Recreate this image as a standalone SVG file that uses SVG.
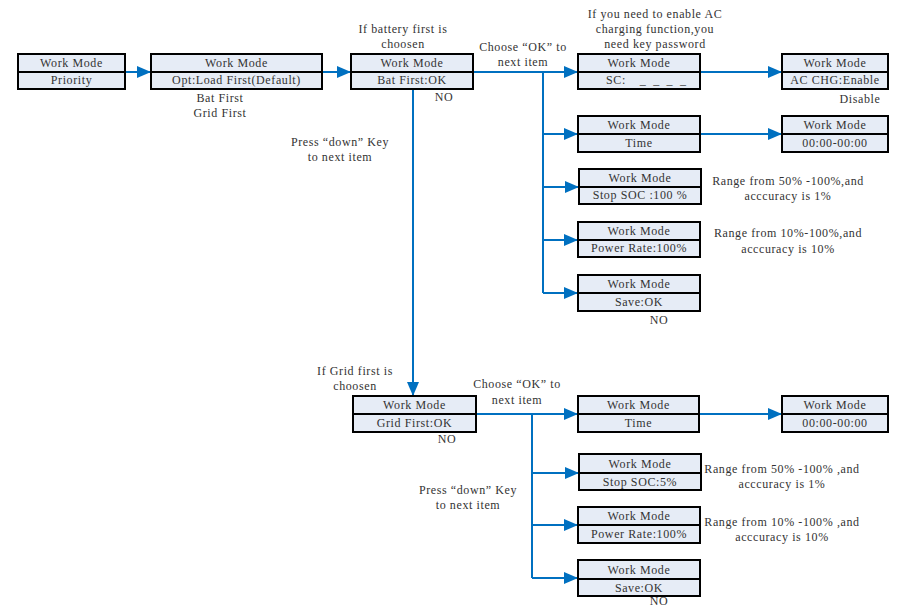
<svg xmlns="http://www.w3.org/2000/svg" width="898" height="608" viewBox="0 0 898 608">
<style>
.b{fill:#E6ECF6;stroke:#000;stroke-width:2}
.d{stroke:#000;stroke-width:2}
.t{font-family:"Liberation Serif","Times New Roman",serif;font-size:12px;letter-spacing:0.6px;fill:#333;text-anchor:middle;dominant-baseline:central}
.c{fill:none;stroke:#0070C0;stroke-width:2}
</style>
<defs>
<marker id="a" markerUnits="userSpaceOnUse" markerWidth="14" markerHeight="12" refX="13" refY="6" orient="auto">
<path d="M0,0 L14,6 L0,12 Z" fill="#0070C0"/>
</marker>
</defs>
<g id="connectors">
<path class="c" d="M125,72 H150" marker-end="url(#a)"/>
<path class="c" d="M322,72 H350" marker-end="url(#a)"/>
<path class="c" d="M473,72 H577" marker-end="url(#a)"/>
<path class="c" d="M700,72 H781" marker-end="url(#a)"/>
<path class="c" d="M543,72 V293"/>
<path class="c" d="M543,134 H577" marker-end="url(#a)"/>
<path class="c" d="M543,187 H578" marker-end="url(#a)"/>
<path class="c" d="M543,240 H577" marker-end="url(#a)"/>
<path class="c" d="M543,293 H577" marker-end="url(#a)"/>
<path class="c" d="M700,134 H781" marker-end="url(#a)"/>
<path class="c" d="M413,89 V395" marker-end="url(#a)"/>
<path class="c" d="M476,414 H577" marker-end="url(#a)"/>
<path class="c" d="M532,414 V578"/>
<path class="c" d="M532,473 H578" marker-end="url(#a)"/>
<path class="c" d="M532,525 H577" marker-end="url(#a)"/>
<path class="c" d="M532,578 H577" marker-end="url(#a)"/>
<path class="c" d="M699,414 H781" marker-end="url(#a)"/>
</g>
<g id="n1"><rect class="b" x="18" y="54" width="107" height="35"/><line class="d" x1="18" y1="72" x2="125" y2="72"/><text class="t" x="71.5" y="63">Work Mode</text><text class="t" x="71.5" y="80">Priority</text></g>
<g id="n2"><rect class="b" x="151" y="54" width="171" height="35"/><line class="d" x1="151" y1="72" x2="322" y2="72"/><text class="t" x="236.5" y="63">Work Mode</text><text class="t" x="236.5" y="80">Opt:Load First(Default)</text></g>
<g id="n3"><rect class="b" x="351" y="54" width="122" height="35"/><line class="d" x1="351" y1="72" x2="473" y2="72"/><text class="t" x="412" y="63">Work Mode</text><text class="t" x="412" y="80">Bat First:OK</text></g>
<g id="n4"><rect class="b" x="578" y="54" width="122" height="35"/><line class="d" x1="578" y1="72" x2="700" y2="72"/><text class="t" x="639" y="63">Work Mode</text><text class="t" x="606" y="80" style="text-anchor:start" xml:space="preserve">SC: <tspan style="letter-spacing:2.2px">  _ _ _ _</tspan></text></g>
<g id="n5"><rect class="b" x="782" y="54" width="106" height="35"/><line class="d" x1="782" y1="72" x2="888" y2="72"/><text class="t" x="835" y="63">Work Mode</text><text class="t" x="835" y="80">AC CHG:Enable</text></g>
<g id="n6"><rect class="b" x="578" y="116" width="122" height="36"/><line class="d" x1="578" y1="134" x2="700" y2="134"/><text class="t" x="639" y="125">Work Mode</text><text class="t" x="639" y="143">Time</text></g>
<g id="n7"><rect class="b" x="782" y="116" width="106" height="36"/><line class="d" x1="782" y1="134" x2="888" y2="134"/><text class="t" x="835" y="125">Work Mode</text><text class="t" x="835" y="143">00:00-00:00</text></g>
<g id="n8"><rect class="b" x="579" y="169" width="122" height="35"/><line class="d" x1="579" y1="187" x2="701" y2="187"/><text class="t" x="640" y="178">Work Mode</text><text class="t" x="640" y="195">Stop SOC :100 %</text></g>
<g id="n9"><rect class="b" x="578" y="222" width="122" height="35"/><line class="d" x1="578" y1="240" x2="700" y2="240"/><text class="t" x="639" y="231">Work Mode</text><text class="t" x="639" y="248">Power Rate:100%</text></g>
<g id="n10"><rect class="b" x="578" y="275" width="122" height="36"/><line class="d" x1="578" y1="293" x2="700" y2="293"/><text class="t" x="639" y="284">Work Mode</text><text class="t" x="639" y="302">Save:OK</text></g>
<g id="n11"><rect class="b" x="353" y="396" width="123" height="36"/><line class="d" x1="353" y1="414" x2="476" y2="414"/><text class="t" x="414.5" y="405">Work Mode</text><text class="t" x="414.5" y="423">Grid First:OK</text></g>
<g id="n12"><rect class="b" x="578" y="396" width="121" height="36"/><line class="d" x1="578" y1="414" x2="699" y2="414"/><text class="t" x="638.5" y="405">Work Mode</text><text class="t" x="638.5" y="423">Time</text></g>
<g id="n13"><rect class="b" x="782" y="396" width="106" height="36"/><line class="d" x1="782" y1="414" x2="888" y2="414"/><text class="t" x="835" y="405">Work Mode</text><text class="t" x="835" y="423">00:00-00:00</text></g>
<g id="n14"><rect class="b" x="579" y="454" width="122" height="36"/><line class="d" x1="579" y1="473" x2="701" y2="473"/><text class="t" x="640" y="463.5">Work Mode</text><text class="t" x="640" y="481.5">Stop SOC:5%</text></g>
<g id="n15"><rect class="b" x="578" y="507" width="122" height="36"/><line class="d" x1="578" y1="525" x2="700" y2="525"/><text class="t" x="639" y="516">Work Mode</text><text class="t" x="639" y="534">Power Rate:100%</text></g>
<g id="n16"><rect class="b" x="578" y="560" width="122" height="36"/><line class="d" x1="578" y1="579" x2="700" y2="579"/><text class="t" x="639" y="569.5">Work Mode</text><text class="t" x="639" y="587.5">Save:OK</text></g>
<g id="labels">
<text class="t" x="220" y="98">Bat First</text>
<text class="t" x="220" y="113">Grid First</text>
<text class="t" x="403" y="29">If battery first is</text>
<text class="t" x="403" y="44">choosen</text>
<text class="t" x="444" y="97">NO</text>
<text class="t" x="523" y="47">Choose “OK” to</text>
<text class="t" x="523" y="62">next item</text>
<text class="t" x="655" y="14">If you need to enable AC</text>
<text class="t" x="655" y="29">charging function,you</text>
<text class="t" x="655" y="44">need key password</text>
<text class="t" x="860" y="99">Disable</text>
<text class="t" x="340" y="142">Press “down” Key</text>
<text class="t" x="340" y="157">to next item</text>
<text class="t" x="788" y="181">Range from 50% -100%,and</text>
<text class="t" x="788" y="196">acccuracy is 1%</text>
<text class="t" x="788" y="233">Range from 10%-100%,and</text>
<text class="t" x="788" y="249">acccuracy is 10%</text>
<text class="t" x="659" y="320">NO</text>
<text class="t" x="355" y="371">If Grid first is</text>
<text class="t" x="355" y="386">choosen</text>
<text class="t" x="447" y="439">NO</text>
<text class="t" x="517" y="384">Choose “OK” to</text>
<text class="t" x="517" y="400">next item</text>
<text class="t" x="468" y="490">Press “down” Key</text>
<text class="t" x="468" y="505">to next item</text>
<text class="t" x="782" y="469">Range from 50% -100% ,and</text>
<text class="t" x="782" y="484">acccuracy is 1%</text>
<text class="t" x="782" y="522">Range from 10% -100% ,and</text>
<text class="t" x="782" y="537">acccuracy is 10%</text>
<text class="t" x="659" y="601">NO</text>
</g>
</svg>
